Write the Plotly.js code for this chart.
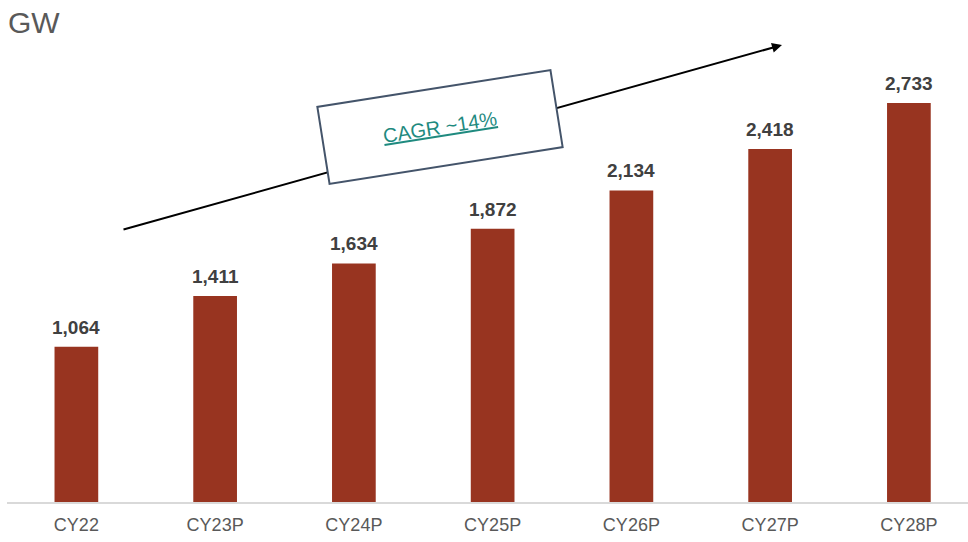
<!DOCTYPE html>
<html>
<head>
<meta charset="utf-8">
<script src="https://cdn.plot.ly/plotly-3.0.1.min.js"></script>
<style>
  html, body { margin: 0; padding: 0; background: #fff; }
</style>
</head>
<body>
<div id="chart" style="width:968px;height:542px;"></div>
<script>
// capacity by calendar year (GW)
let years = ['CY22', 'CY23P', 'CY24P', 'CY25P', 'CY26P', 'CY27P', 'CY28P'];
let capacity = [1064, 1411, 1634, 1872, 2134, 2418, 2733];
let cagrText = 'CAGR ~14%';

let trace1 = {
  x: years,
  y: capacity,
  type: 'bar',
  width: 0.315,
  hoverinfo: 'x+y',
  marker: {
    color: '#983420'
  }
};

// value labels sit a bit higher than plotly's 'outside' text, so use annotations
let labels = years.map(function (yr, i) {
  return {
    x: yr,
    y: capacity[i],
    xref: 'x',
    yref: 'y',
    text: '<b>' + capacity[i].toLocaleString('en-US') + '</b>',
    showarrow: false,
    yanchor: 'bottom',
    yshift: 7,
    font: { family: 'Arial, Liberation Sans, sans-serif', size: 19, color: '#404040' }
  };
});

// pixel -> paper helpers for the plot area (l=7, w=961, bottom at 502, h=462)
function px(x) { return (x - 7) / 961; }
function py(y) { return (502 - y) / 462; }

let extras = [
  {
    // trend arrow
    x: px(782), y: py(45), xref: 'paper', yref: 'paper',
    ax: 122 - 782, ay: 230 - 45,
    showarrow: true, arrowhead: 2, arrowsize: 1, arrowwidth: 2,
    arrowcolor: '#000000', text: ''
  },
  {
    // rotated CAGR box
    x: px(440), y: py(127), xref: 'paper', yref: 'paper',
    xanchor: 'center', yanchor: 'middle',
    text: '<u>' + cagrText + '</u>',
    showarrow: false,
    textangle: -9,
    width: 232, height: 74,
    borderpad: 1,
    bgcolor: '#ffffff',
    bordercolor: '#44546a',
    borderwidth: 2,
    font: { family: 'Arial, Liberation Sans, sans-serif', size: 20, color: '#1f8a7f' }
  },
  {
    x: 0, y: 1, xref: 'paper', yref: 'paper',
    xanchor: 'left', yanchor: 'middle',
    xshift: -1, yshift: 18,
    text: 'GW', showarrow: false,
    font: { family: 'Arial, Liberation Sans, sans-serif', size: 30, color: '#595959' }
  }
];

let layout = {
  width: 968,
  height: 542,
  margin: { l: 7, r: 0, t: 40, b: 40 },
  paper_bgcolor: '#ffffff',
  plot_bgcolor: '#ffffff',
  showlegend: false,
  xaxis: {
    range: [-0.5, 6.426],
    showline: true,
    linecolor: '#d9d9d9',
    linewidth: 2,
    showgrid: false,
    ticks: '',
    ticklabelstandoff: 5,
    tickfont: { family: 'Arial, Liberation Sans, sans-serif', size: 18, color: '#595959' }
  },
  yaxis: {
    range: [0, 3164],
    visible: false,
    showgrid: false,
    zeroline: false
  },
  annotations: labels.concat(extras)
};

Plotly.newPlot('chart', [trace1], layout, { displayModeBar: false, staticPlot: true });
</script>
</body>
</html>
